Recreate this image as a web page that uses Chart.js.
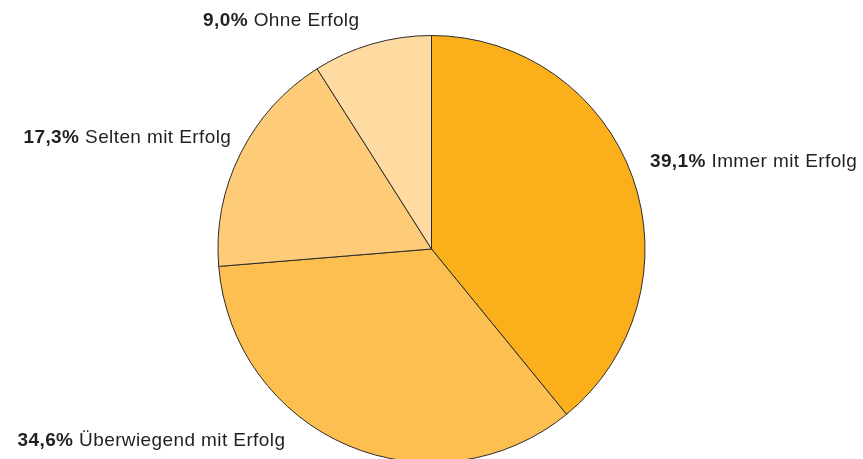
<!DOCTYPE html>
<html lang="de">
<head>
    <meta charset="UTF-8">
    <title>Erfolg</title>
    <script src="https://cdn.jsdelivr.net/npm/chart.js@4.4.1/dist/chart.umd.min.js"></script>
    <style>
        html, body { margin: 0; padding: 0; background: #fff; overflow: hidden; }
        #wrap { position: relative; width: 863px; height: 520px; }
    </style>
</head>
<body>
    <div id="wrap"><canvas id="pie"></canvas></div>

    <script>
        const categories = ['Immer mit Erfolg', 'Überwiegend mit Erfolg', 'Selten mit Erfolg', 'Ohne Erfolg'];
        const shares = [39.1, 34.6, 17.3, 9.0];
        const percentLabels = ['39,1%', '34,6%', '17,3%', '9,0%'];

        const colors = ['#fbb01b', '#fdbf4f', '#fecb79', '#ffdaa1'];

        // label anchors (left edge, vertical middle) relative to pie centre, in radii
        const labelPlace = [
            [1.023, -0.407],
            [-1.939, 0.897],
            [-1.911, -0.523],
            [-1.070, -1.070]
        ];

        const labelPlugin = {
            id: 'sliceLabels',
            afterDatasetsDraw(chart) {
                const ctx = chart.ctx;
                const arc = chart.getDatasetMeta(0).data[0];
                const cx = arc.x, cy = arc.y, r = arc.outerRadius;
                ctx.save();
                ctx.textBaseline = 'middle';
                ctx.textAlign = 'left';
                ctx.fillStyle = '#231f20';
                ctx.letterSpacing = '0.4px';
                categories.forEach((name, i) => {
                    const x = cx + labelPlace[i][0] * r;
                    const y = cy + labelPlace[i][1] * r;
                    ctx.font = 'bold 19px "Liberation Sans", Arial, sans-serif';
                    const pct = percentLabels[i];
                    ctx.fillText(pct, x, y);
                    const w = ctx.measureText(pct + ' ').width;
                    ctx.font = '19px "Liberation Sans", Arial, sans-serif';
                    ctx.fillText(name, x + w, y);
                });
                ctx.restore();
            }
        };

        new Chart(document.getElementById('pie'), {
            type: 'pie',
            data: {
                labels: categories,
                datasets: [{
                    data: shares,
                    backgroundColor: colors,
                    borderColor: '#2b2b2b',
                    borderWidth: 1
                }]
            },
            options: {
                responsive: true,
                maintainAspectRatio: false,
                animation: false,
                layout: { padding: { top: 35, bottom: 57, left: 0, right: 0 } },
                plugins: {
                    legend: { display: false },
                    tooltip: { enabled: false }
                }
            },
            plugins: [labelPlugin]
        });
    </script>
</body>
</html>
